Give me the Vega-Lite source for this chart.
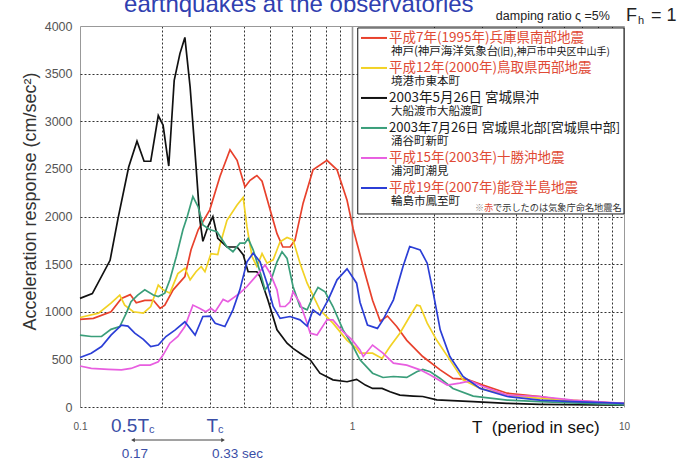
{
  "$schema": "https://vega.github.io/schema/vega-lite/v6.json",
  "width": 544,
  "height": 381,
  "autosize": {"type": "none"},
  "padding": {"left": 80, "top": 26, "right": 53, "bottom": 55},
  "background": "white",
  "config": {"view": {"stroke": null}, "font": "Liberation Sans"},
  "datasets": {
    "spectra": [
      {"eq":"kobe","T":0.1,"A":920},{"eq":"kobe","T":0.112,"A":930},{"eq":"kobe","T":0.13,"A":1000},{"eq":"kobe","T":0.142,"A":1140},{"eq":"kobe","T":0.153,"A":1180},{"eq":"kobe","T":0.161,"A":1095},{"eq":"kobe","T":0.173,"A":1120},{"eq":"kobe","T":0.186,"A":1120},{"eq":"kobe","T":0.197,"A":1035},{"eq":"kobe","T":0.205,"A":1070},{"eq":"kobe","T":0.22,"A":1230},{"eq":"kobe","T":0.243,"A":1370},{"eq":"kobe","T":0.256,"A":1650},{"eq":"kobe","T":0.272,"A":1860},{"eq":"kobe","T":0.3,"A":2070},{"eq":"kobe","T":0.327,"A":2420},{"eq":"kobe","T":0.356,"A":2700},{"eq":"kobe","T":0.378,"A":2590},{"eq":"kobe","T":0.404,"A":2310},{"eq":"kobe","T":0.422,"A":2380},{"eq":"kobe","T":0.447,"A":2430},{"eq":"kobe","T":0.467,"A":2370},{"eq":"kobe","T":0.5,"A":2070},{"eq":"kobe","T":0.53,"A":1820},{"eq":"kobe","T":0.557,"A":1680},{"eq":"kobe","T":0.592,"A":1680},{"eq":"kobe","T":0.617,"A":1750},{"eq":"kobe","T":0.661,"A":2140},{"eq":"kobe","T":0.719,"A":2490},{"eq":"kobe","T":0.809,"A":2590},{"eq":"kobe","T":0.881,"A":2490},{"eq":"kobe","T":0.959,"A":2170},{"eq":"kobe","T":1.01,"A":1870},{"eq":"kobe","T":1.1,"A":1470},{"eq":"kobe","T":1.19,"A":1120},{"eq":"kobe","T":1.27,"A":900},{"eq":"kobe","T":1.35,"A":955},{"eq":"kobe","T":1.46,"A":845},{"eq":"kobe","T":1.59,"A":700},{"eq":"kobe","T":1.82,"A":530},{"eq":"kobe","T":2.11,"A":390},{"eq":"kobe","T":2.35,"A":300},{"eq":"kobe","T":2.65,"A":290},{"eq":"kobe","T":3.03,"A":230},{"eq":"kobe","T":3.72,"A":145},{"eq":"kobe","T":4.91,"A":110},{"eq":"kobe","T":6.49,"A":56},{"eq":"kobe","T":10,"A":38},
      {"eq":"tottori","T":0.1,"A":940},{"eq":"tottori","T":0.117,"A":985},{"eq":"tottori","T":0.13,"A":1090},{"eq":"tottori","T":0.14,"A":1175},{"eq":"tottori","T":0.146,"A":1070},{"eq":"tottori","T":0.157,"A":1000},{"eq":"tottori","T":0.171,"A":985},{"eq":"tottori","T":0.182,"A":1055},{"eq":"tottori","T":0.194,"A":1280},{"eq":"tottori","T":0.202,"A":1230},{"eq":"tottori","T":0.214,"A":1195},{"eq":"tottori","T":0.229,"A":1400},{"eq":"tottori","T":0.243,"A":1455},{"eq":"tottori","T":0.254,"A":1335},{"eq":"tottori","T":0.267,"A":1420},{"eq":"tottori","T":0.279,"A":1475},{"eq":"tottori","T":0.288,"A":1420},{"eq":"tottori","T":0.303,"A":1610},{"eq":"tottori","T":0.321,"A":1600},{"eq":"tottori","T":0.327,"A":1700},{"eq":"tottori","T":0.347,"A":1960},{"eq":"tottori","T":0.378,"A":2120},{"eq":"tottori","T":0.398,"A":2200},{"eq":"tottori","T":0.411,"A":1890},{"eq":"tottori","T":0.429,"A":1580},{"eq":"tottori","T":0.447,"A":1475},{"eq":"tottori","T":0.467,"A":1610},{"eq":"tottori","T":0.487,"A":1510},{"eq":"tottori","T":0.513,"A":1545},{"eq":"tottori","T":0.544,"A":1735},{"eq":"tottori","T":0.577,"A":1780},{"eq":"tottori","T":0.607,"A":1755},{"eq":"tottori","T":0.644,"A":1510},{"eq":"tottori","T":0.684,"A":1300},{"eq":"tottori","T":0.762,"A":1020},{"eq":"tottori","T":0.851,"A":880},{"eq":"tottori","T":0.959,"A":700},{"eq":"tottori","T":1.04,"A":615},{"eq":"tottori","T":1.07,"A":565},{"eq":"tottori","T":1.19,"A":565},{"eq":"tottori","T":1.29,"A":510},{"eq":"tottori","T":1.38,"A":635},{"eq":"tottori","T":1.5,"A":775},{"eq":"tottori","T":1.63,"A":950},{"eq":"tottori","T":1.73,"A":1070},{"eq":"tottori","T":1.78,"A":1060},{"eq":"tottori","T":1.89,"A":880},{"eq":"tottori","T":2.05,"A":700},{"eq":"tottori","T":2.29,"A":495},{"eq":"tottori","T":2.56,"A":285},{"eq":"tottori","T":2.96,"A":195},{"eq":"tottori","T":3.72,"A":125},{"eq":"tottori","T":4.91,"A":90},{"eq":"tottori","T":6.49,"A":73},{"eq":"tottori","T":10,"A":31},
      {"eq":"miyagi_oki","T":0.1,"A":1140},{"eq":"miyagi_oki","T":0.111,"A":1190},{"eq":"miyagi_oki","T":0.129,"A":1540},{"eq":"miyagi_oki","T":0.138,"A":1980},{"eq":"miyagi_oki","T":0.151,"A":2520},{"eq":"miyagi_oki","T":0.162,"A":2790},{"eq":"miyagi_oki","T":0.172,"A":2580},{"eq":"miyagi_oki","T":0.182,"A":2580},{"eq":"miyagi_oki","T":0.194,"A":3060},{"eq":"miyagi_oki","T":0.202,"A":2960},{"eq":"miyagi_oki","T":0.212,"A":2530},{"eq":"miyagi_oki","T":0.222,"A":3430},{"eq":"miyagi_oki","T":0.233,"A":3710},{"eq":"miyagi_oki","T":0.243,"A":3880},{"eq":"miyagi_oki","T":0.254,"A":3360},{"eq":"miyagi_oki","T":0.265,"A":2660},{"eq":"miyagi_oki","T":0.276,"A":1960},{"eq":"miyagi_oki","T":0.283,"A":1740},{"eq":"miyagi_oki","T":0.296,"A":1900},{"eq":"miyagi_oki","T":0.308,"A":2000},{"eq":"miyagi_oki","T":0.321,"A":1770},{"eq":"miyagi_oki","T":0.347,"A":1680},{"eq":"miyagi_oki","T":0.378,"A":1680},{"eq":"miyagi_oki","T":0.398,"A":1600},{"eq":"miyagi_oki","T":0.415,"A":1420},{"eq":"miyagi_oki","T":0.447,"A":1420},{"eq":"miyagi_oki","T":0.459,"A":1370},{"eq":"miyagi_oki","T":0.491,"A":1120},{"eq":"miyagi_oki","T":0.53,"A":810},{"eq":"miyagi_oki","T":0.577,"A":670},{"eq":"miyagi_oki","T":0.607,"A":615},{"eq":"miyagi_oki","T":0.644,"A":565},{"eq":"miyagi_oki","T":0.702,"A":495},{"eq":"miyagi_oki","T":0.762,"A":355},{"eq":"miyagi_oki","T":0.851,"A":285},{"eq":"miyagi_oki","T":0.959,"A":265},{"eq":"miyagi_oki","T":1.04,"A":290},{"eq":"miyagi_oki","T":1.12,"A":230},{"eq":"miyagi_oki","T":1.19,"A":195},{"eq":"miyagi_oki","T":1.29,"A":195},{"eq":"miyagi_oki","T":1.38,"A":160},{"eq":"miyagi_oki","T":1.5,"A":125},{"eq":"miyagi_oki","T":1.68,"A":115},{"eq":"miyagi_oki","T":1.82,"A":110},{"eq":"miyagi_oki","T":2.05,"A":75},{"eq":"miyagi_oki","T":2.79,"A":56},{"eq":"miyagi_oki","T":3.72,"A":38},{"eq":"miyagi_oki","T":4.91,"A":28},{"eq":"miyagi_oki","T":10,"A":20},
      {"eq":"miyagi_north","T":0.1,"A":755},{"eq":"miyagi_north","T":0.11,"A":740},{"eq":"miyagi_north","T":0.12,"A":740},{"eq":"miyagi_north","T":0.13,"A":815},{"eq":"miyagi_north","T":0.14,"A":845},{"eq":"miyagi_north","T":0.148,"A":985},{"eq":"miyagi_north","T":0.154,"A":1105},{"eq":"miyagi_north","T":0.163,"A":1175},{"eq":"miyagi_north","T":0.173,"A":1230},{"eq":"miyagi_north","T":0.186,"A":1175},{"eq":"miyagi_north","T":0.194,"A":1160},{"eq":"miyagi_north","T":0.205,"A":1195},{"eq":"miyagi_north","T":0.214,"A":1335},{"eq":"miyagi_north","T":0.226,"A":1580},{"eq":"miyagi_north","T":0.239,"A":1860},{"eq":"miyagi_north","T":0.248,"A":2000},{"eq":"miyagi_north","T":0.26,"A":2210},{"eq":"miyagi_north","T":0.272,"A":2100},{"eq":"miyagi_north","T":0.283,"A":1910},{"eq":"miyagi_north","T":0.301,"A":1860},{"eq":"miyagi_north","T":0.319,"A":1840},{"eq":"miyagi_north","T":0.347,"A":1680},{"eq":"miyagi_north","T":0.365,"A":1630},{"eq":"miyagi_north","T":0.387,"A":1720},{"eq":"miyagi_north","T":0.404,"A":1720},{"eq":"miyagi_north","T":0.415,"A":1770},{"eq":"miyagi_north","T":0.433,"A":1650},{"eq":"miyagi_north","T":0.459,"A":1420},{"eq":"miyagi_north","T":0.479,"A":1230},{"eq":"miyagi_north","T":0.5,"A":1300},{"eq":"miyagi_north","T":0.53,"A":1525},{"eq":"miyagi_north","T":0.553,"A":1630},{"eq":"miyagi_north","T":0.577,"A":1560},{"eq":"miyagi_north","T":0.607,"A":1265},{"eq":"miyagi_north","T":0.644,"A":1055},{"eq":"miyagi_north","T":0.684,"A":1020},{"eq":"miyagi_north","T":0.719,"A":1160},{"eq":"miyagi_north","T":0.75,"A":1255},{"eq":"miyagi_north","T":0.796,"A":1210},{"eq":"miyagi_north","T":0.851,"A":1055},{"eq":"miyagi_north","T":0.927,"A":810},{"eq":"miyagi_north","T":1.01,"A":635},{"eq":"miyagi_north","T":1.05,"A":540},{"eq":"miyagi_north","T":1.07,"A":495},{"eq":"miyagi_north","T":1.19,"A":355},{"eq":"miyagi_north","T":1.3,"A":310},{"eq":"miyagi_north","T":1.42,"A":320},{"eq":"miyagi_north","T":1.59,"A":310},{"eq":"miyagi_north","T":1.73,"A":370},{"eq":"miyagi_north","T":1.82,"A":395},{"eq":"miyagi_north","T":1.94,"A":370},{"eq":"miyagi_north","T":2.11,"A":300},{"eq":"miyagi_north","T":2.35,"A":195},{"eq":"miyagi_north","T":2.79,"A":115},{"eq":"miyagi_north","T":3.72,"A":73},{"eq":"miyagi_north","T":4.91,"A":56},{"eq":"miyagi_north","T":10,"A":21},
      {"eq":"tokachi","T":0.1,"A":430},{"eq":"tokachi","T":0.11,"A":405},{"eq":"tokachi","T":0.127,"A":395},{"eq":"tokachi","T":0.142,"A":390},{"eq":"tokachi","T":0.154,"A":405},{"eq":"tokachi","T":0.166,"A":440},{"eq":"tokachi","T":0.181,"A":440},{"eq":"tokachi","T":0.194,"A":475},{"eq":"tokachi","T":0.202,"A":545},{"eq":"tokachi","T":0.214,"A":670},{"eq":"tokachi","T":0.229,"A":740},{"eq":"tokachi","T":0.243,"A":845},{"eq":"tokachi","T":0.26,"A":1070},{"eq":"tokachi","T":0.276,"A":1035},{"eq":"tokachi","T":0.29,"A":1000},{"eq":"tokachi","T":0.303,"A":1035},{"eq":"tokachi","T":0.314,"A":1000},{"eq":"tokachi","T":0.336,"A":1130},{"eq":"tokachi","T":0.35,"A":1105},{"eq":"tokachi","T":0.387,"A":1195},{"eq":"tokachi","T":0.411,"A":1265},{"eq":"tokachi","T":0.447,"A":1385},{"eq":"tokachi","T":0.479,"A":1490},{"eq":"tokachi","T":0.5,"A":1405},{"eq":"tokachi","T":0.53,"A":1230},{"eq":"tokachi","T":0.544,"A":1055},{"eq":"tokachi","T":0.568,"A":1055},{"eq":"tokachi","T":0.592,"A":1105},{"eq":"tokachi","T":0.607,"A":1210},{"eq":"tokachi","T":0.644,"A":1090},{"eq":"tokachi","T":0.684,"A":880},{"eq":"tokachi","T":0.702,"A":775},{"eq":"tokachi","T":0.744,"A":755},{"eq":"tokachi","T":0.809,"A":915},{"eq":"tokachi","T":0.851,"A":915},{"eq":"tokachi","T":0.927,"A":790},{"eq":"tokachi","T":1.0,"A":705},{"eq":"tokachi","T":1.07,"A":600},{"eq":"tokachi","T":1.1,"A":530},{"eq":"tokachi","T":1.19,"A":650},{"eq":"tokachi","T":1.3,"A":565},{"eq":"tokachi","T":1.42,"A":460},{"eq":"tokachi","T":1.59,"A":440},{"eq":"tokachi","T":1.78,"A":390},{"eq":"tokachi","T":1.94,"A":335},{"eq":"tokachi","T":2.24,"A":230},{"eq":"tokachi","T":2.49,"A":250},{"eq":"tokachi","T":2.72,"A":275},{"eq":"tokachi","T":3.03,"A":215},{"eq":"tokachi","T":3.72,"A":125},{"eq":"tokachi","T":4.91,"A":110},{"eq":"tokachi","T":6.49,"A":73},{"eq":"tokachi","T":10,"A":38},
      {"eq":"noto","T":0.1,"A":520},{"eq":"noto","T":0.11,"A":565},{"eq":"noto","T":0.12,"A":635},{"eq":"noto","T":0.13,"A":755},{"eq":"noto","T":0.142,"A":860},{"eq":"noto","T":0.15,"A":850},{"eq":"noto","T":0.159,"A":775},{"eq":"noto","T":0.171,"A":710},{"eq":"noto","T":0.182,"A":635},{"eq":"noto","T":0.194,"A":650},{"eq":"noto","T":0.207,"A":740},{"eq":"noto","T":0.224,"A":810},{"eq":"noto","T":0.243,"A":895},{"eq":"noto","T":0.265,"A":755},{"eq":"noto","T":0.283,"A":950},{"eq":"noto","T":0.301,"A":955},{"eq":"noto","T":0.314,"A":880},{"eq":"noto","T":0.341,"A":845},{"eq":"noto","T":0.365,"A":1020},{"eq":"noto","T":0.387,"A":1230},{"eq":"noto","T":0.411,"A":1525},{"eq":"noto","T":0.433,"A":1615},{"eq":"noto","T":0.459,"A":1525},{"eq":"noto","T":0.487,"A":1300},{"eq":"noto","T":0.513,"A":1055},{"eq":"noto","T":0.544,"A":930},{"eq":"noto","T":0.592,"A":950},{"eq":"noto","T":0.644,"A":915},{"eq":"noto","T":0.684,"A":850},{"eq":"noto","T":0.719,"A":1020},{"eq":"noto","T":0.762,"A":965},{"eq":"noto","T":0.817,"A":1125},{"eq":"noto","T":0.881,"A":1335},{"eq":"noto","T":0.959,"A":1450},{"eq":"noto","T":1.04,"A":1300},{"eq":"noto","T":1.07,"A":1100},{"eq":"noto","T":1.14,"A":860},{"eq":"noto","T":1.24,"A":825},{"eq":"noto","T":1.3,"A":915},{"eq":"noto","T":1.42,"A":1125},{"eq":"noto","T":1.54,"A":1475},{"eq":"noto","T":1.63,"A":1685},{"eq":"noto","T":1.78,"A":1650},{"eq":"noto","T":1.89,"A":1510},{"eq":"noto","T":1.99,"A":1195},{"eq":"noto","T":2.11,"A":810},{"eq":"noto","T":2.29,"A":530},{"eq":"noto","T":2.56,"A":320},{"eq":"noto","T":2.96,"A":195},{"eq":"noto","T":3.72,"A":110},{"eq":"noto","T":4.91,"A":73},{"eq":"noto","T":6.49,"A":56},{"eq":"noto","T":10,"A":38}
    ],
    "legend": [
      {"eq":"kobe","named":true,"line1":"平成7年(1995年)兵庫県南部地震","line2":"神戸(神戸海洋気象台","line2b":"(旧),神戸市中央区中山手)"},
      {"eq":"tottori","named":true,"line1":"平成12年(2000年)鳥取県西部地震","line2":"境港市東本町","line2b":""},
      {"eq":"miyagi_oki","named":false,"line1":"2003年5月26日 宮城県沖","line2":"大船渡市大船渡町","line2b":""},
      {"eq":"miyagi_north","named":false,"line1":"2003年7月26日 宮城県北部[宮城県中部]","line2":"涌谷町新町","line2b":""},
      {"eq":"tokachi","named":true,"line1":"平成15年(2003年)十勝沖地震","line2":"浦河町潮見","line2b":""},
      {"eq":"noto","named":true,"line1":"平成19年(2007年)能登半島地震","line2":"輪島市鳳至町","line2b":""}
    ]
  },
  "layer": [
    {
      "data": {"name": "spectra"},
      "mark": {"type": "line", "strokeWidth": 1.7},
      "encoding": {
        "x": {
          "field": "T", "type": "quantitative",
          "scale": {"type": "log", "domain": [0.1, 10]},
          "axis": {
            "values": [0.1,0.2,0.3,0.4,0.5,0.6,0.7,0.8,0.9,1,2,3,4,5,6,7,8,9,10],
            "labelExpr": "datum.value == 0.1 ? '0.1' : datum.value == 1 ? '1' : datum.value == 10 ? '10' : ''",
            "labelOverlap": false, "labelFlush": false, "labelBound": false,
            "labelFontSize": 10, "labelColor": "#555", "labelPadding": 14,
            "grid": true,
            "gridDash": {"condition": {"test": "datum.value == 0.1 || datum.value == 1 || datum.value == 10", "value": []}, "value": [2, 2]},
            "gridColor": {"condition": {"test": "datum.value == 0.1 || datum.value == 1 || datum.value == 10", "value": "#999"}, "value": "#333"},
            "gridWidth": {"condition": {"test": "datum.value == 1", "value": 1.6}, "value": 1},
            "domain": false, "ticks": false, "title": null
          }
        },
        "y": {
          "field": "A", "type": "quantitative",
          "scale": {"domain": [0, 4000]},
          "axis": {
            "values": [0,500,1000,1500,2000,2500,3000,3500,4000],
            "format": "d",
            "grid": true,
            "gridDash": {"condition": {"test": "datum.value == 4000", "value": []}, "value": [2, 2]},
            "gridColor": {"condition": {"test": "datum.value == 4000", "value": "#999"}, "value": "#333"},
            "domain": false, "ticks": false,
            "labelFontSize": 12.5, "labelColor": "#555", "labelPadding": 8,
            "title": "Acceleration response (cm/sec²)",
            "titleFontSize": 18, "titleFontWeight": "normal", "titleColor": "#333", "titlePadding": 5,
            "titleY": 175
          }
        },
        "color": {
          "field": "eq", "type": "nominal", "legend": null,
          "scale": {
            "domain": ["kobe","tottori","miyagi_oki","miyagi_north","tokachi","noto"],
            "range": ["#e8412c","#f2d224","#111111","#3a9e7a","#e85ee0","#2b3ed6"]
          }
        }
      }
    },
    {
      "data": {"values": [{}]},
      "mark": {"type": "rect", "fill": "white", "stroke": "#111", "strokeWidth": 1},
      "encoding": {"x": {"datum": 1.05}, "x2": {"datum": 10}, "y": {"datum": 3979.5}, "y2": {"datum": 2026.5}}
    },
    {
      "data": {"name": "legend"},
      "transform": [{"filter": "datum.eq == 'kobe'"}],
      "layer": [
        {"mark": {"type": "rule", "strokeWidth": 2}, "encoding": {"x": {"datum": 1.079}, "x2": {"datum": 1.345}, "y": {"datum": 3874.5}, "color": {"field": "eq", "type": "nominal", "legend": null}}},
        {"mark": {"type": "text", "align": "left", "baseline": "middle", "fontSize": 13.5, "font": "Noto Sans CJK JP"}, "encoding": {"x": {"datum": 1.368}, "y": {"datum": 3874.5}, "text": {"field": "line1"}, "color": {"condition": {"test": "datum.named", "value": "#e04a35"}, "value": "#1a1a1a"}}},
        {"mark": {"type": "text", "align": "left", "baseline": "middle", "fontSize": 11.5, "font": "Noto Sans CJK JP", "color": "#1a1a1a"}, "encoding": {"x": {"datum": 1.391}, "y": {"datum": 3727.5}, "text": {"field": "line2"}}},
        {"mark": {"type": "text", "align": "left", "baseline": "middle", "fontSize": 10, "letterSpacing": 0.8, "font": "Noto Sans CJK JP", "color": "#1a1a1a"}, "encoding": {"x": {"datum": 3.41}, "y": {"datum": 3722}, "text": {"field": "line2b"}}}
      ]
    },
    {
      "data": {"name": "legend"},
      "transform": [{"filter": "datum.eq == 'tottori'"}],
      "layer": [
        {"mark": {"type": "rule", "strokeWidth": 2}, "encoding": {"x": {"datum": 1.079}, "x2": {"datum": 1.345}, "y": {"datum": 3559.5}, "color": {"field": "eq", "type": "nominal", "legend": null}}},
        {"mark": {"type": "text", "align": "left", "baseline": "middle", "fontSize": 13.5, "font": "Noto Sans CJK JP"}, "encoding": {"x": {"datum": 1.368}, "y": {"datum": 3559.5}, "text": {"field": "line1"}, "color": {"condition": {"test": "datum.named", "value": "#e04a35"}, "value": "#1a1a1a"}}},
        {"mark": {"type": "text", "align": "left", "baseline": "middle", "fontSize": 11.5, "font": "Noto Sans CJK JP", "color": "#1a1a1a"}, "encoding": {"x": {"datum": 1.391}, "y": {"datum": 3412.5}, "text": {"field": "line2"}}}
      ]
    },
    {
      "data": {"name": "legend"},
      "transform": [{"filter": "datum.eq == 'miyagi_oki'"}],
      "layer": [
        {"mark": {"type": "rule", "strokeWidth": 2}, "encoding": {"x": {"datum": 1.079}, "x2": {"datum": 1.345}, "y": {"datum": 3244.5}, "color": {"field": "eq", "type": "nominal", "legend": null}}},
        {"mark": {"type": "text", "align": "left", "baseline": "middle", "fontSize": 13.5, "font": "Noto Sans CJK JP"}, "encoding": {"x": {"datum": 1.368}, "y": {"datum": 3244.5}, "text": {"field": "line1"}, "color": {"condition": {"test": "datum.named", "value": "#e04a35"}, "value": "#1a1a1a"}}},
        {"mark": {"type": "text", "align": "left", "baseline": "middle", "fontSize": 11.5, "font": "Noto Sans CJK JP", "color": "#1a1a1a"}, "encoding": {"x": {"datum": 1.391}, "y": {"datum": 3097.5}, "text": {"field": "line2"}}}
      ]
    },
    {
      "data": {"name": "legend"},
      "transform": [{"filter": "datum.eq == 'miyagi_north'"}],
      "layer": [
        {"mark": {"type": "rule", "strokeWidth": 2}, "encoding": {"x": {"datum": 1.079}, "x2": {"datum": 1.345}, "y": {"datum": 2929.5}, "color": {"field": "eq", "type": "nominal", "legend": null}}},
        {"mark": {"type": "text", "align": "left", "baseline": "middle", "fontSize": 13, "font": "Noto Sans CJK JP"}, "encoding": {"x": {"datum": 1.368}, "y": {"datum": 2929.5}, "text": {"field": "line1"}, "color": {"condition": {"test": "datum.named", "value": "#e04a35"}, "value": "#1a1a1a"}}},
        {"mark": {"type": "text", "align": "left", "baseline": "middle", "fontSize": 11.5, "font": "Noto Sans CJK JP", "color": "#1a1a1a"}, "encoding": {"x": {"datum": 1.391}, "y": {"datum": 2782.5}, "text": {"field": "line2"}}}
      ]
    },
    {
      "data": {"name": "legend"},
      "transform": [{"filter": "datum.eq == 'tokachi'"}],
      "layer": [
        {"mark": {"type": "rule", "strokeWidth": 2}, "encoding": {"x": {"datum": 1.079}, "x2": {"datum": 1.345}, "y": {"datum": 2614.5}, "color": {"field": "eq", "type": "nominal", "legend": null}}},
        {"mark": {"type": "text", "align": "left", "baseline": "middle", "fontSize": 13.5, "font": "Noto Sans CJK JP"}, "encoding": {"x": {"datum": 1.368}, "y": {"datum": 2614.5}, "text": {"field": "line1"}, "color": {"condition": {"test": "datum.named", "value": "#e04a35"}, "value": "#1a1a1a"}}},
        {"mark": {"type": "text", "align": "left", "baseline": "middle", "fontSize": 11.5, "font": "Noto Sans CJK JP", "color": "#1a1a1a"}, "encoding": {"x": {"datum": 1.391}, "y": {"datum": 2467.5}, "text": {"field": "line2"}}}
      ]
    },
    {
      "data": {"name": "legend"},
      "transform": [{"filter": "datum.eq == 'noto'"}],
      "layer": [
        {"mark": {"type": "rule", "strokeWidth": 2}, "encoding": {"x": {"datum": 1.079}, "x2": {"datum": 1.345}, "y": {"datum": 2299.5}, "color": {"field": "eq", "type": "nominal", "legend": null}}},
        {"mark": {"type": "text", "align": "left", "baseline": "middle", "fontSize": 13.5, "font": "Noto Sans CJK JP"}, "encoding": {"x": {"datum": 1.368}, "y": {"datum": 2299.5}, "text": {"field": "line1"}, "color": {"condition": {"test": "datum.named", "value": "#e04a35"}, "value": "#1a1a1a"}}},
        {"mark": {"type": "text", "align": "left", "baseline": "middle", "fontSize": 11.5, "font": "Noto Sans CJK JP", "color": "#1a1a1a"}, "encoding": {"x": {"datum": 1.391}, "y": {"datum": 2152.5}, "text": {"field": "line2"}}}
      ]
    },
    {
      "data": {"values": [{}]},
      "layer": [
        {"mark": {"type": "text", "align": "left", "baseline": "middle", "fontSize": 9, "font": "Noto Sans CJK JP", "color": "#888"}, "encoding": {"x": {"datum": 2.83}, "y": {"datum": 2089.5}, "text": {"value": "※"}}},
        {"mark": {"type": "text", "align": "left", "baseline": "middle", "fontSize": 9.2, "font": "Noto Sans CJK JP", "color": "#e04a35"}, "encoding": {"x": {"datum": 3.06}, "y": {"datum": 2089.5}, "text": {"value": "赤"}}},
        {"mark": {"type": "text", "align": "left", "baseline": "middle", "fontSize": 9.2, "font": "Noto Sans CJK JP", "color": "#333"}, "encoding": {"x": {"datum": 3.30}, "y": {"datum": 2089.5}, "text": {"value": "で示したのは気象庁命名地震名"}}},
        {"mark": {"type": "text", "align": "left", "baseline": "alphabetic", "fontSize": 24, "color": "#3040b0"}, "encoding": {"x": {"datum": 0.1452}, "y": {"datum": 4147.5}, "text": {"value": "earthquakes at the observatories"}}},
        {"mark": {"type": "text", "align": "left", "baseline": "alphabetic", "fontSize": 12.5, "color": "#222"}, "encoding": {"x": {"datum": 3.38}, "y": {"datum": 4063.5}, "text": {"value": "damping ratio ς =5%"}}},
        {"mark": {"type": "text", "align": "left", "baseline": "alphabetic", "fontSize": 18, "color": "#222"}, "encoding": {"x": {"datum": 10.17}, "y": {"datum": 4053}, "text": {"value": "F"}}},
        {"mark": {"type": "text", "align": "left", "baseline": "alphabetic", "fontSize": 11, "color": "#222"}, "encoding": {"x": {"datum": 11.25}, "y": {"datum": 4021.5}, "text": {"value": "h"}}},
        {"mark": {"type": "text", "align": "left", "baseline": "alphabetic", "fontSize": 18, "color": "#222"}, "encoding": {"x": {"datum": 12.57}, "y": {"datum": 4053}, "text": {"value": "= 1"}}},
        {"mark": {"type": "text", "align": "left", "baseline": "middle", "fontSize": 17, "color": "#111"}, "encoding": {"x": {"datum": 2.762}, "y": {"datum": -220.5}, "text": {"value": "T\u00a0 (period in sec)"}}},
        {"mark": {"type": "text", "align": "right", "baseline": "alphabetic", "fontSize": 19, "color": "#3a4ea6"}, "encoding": {"x": {"datum": 0.1794}, "y": {"datum": -262.5}, "text": {"value": "0.5T"}}},
        {"mark": {"type": "text", "align": "left", "baseline": "alphabetic", "fontSize": 11, "color": "#3a4ea6"}, "encoding": {"x": {"datum": 0.1794}, "y": {"datum": -273}, "text": {"value": "c"}}},
        {"mark": {"type": "text", "align": "right", "baseline": "alphabetic", "fontSize": 19, "color": "#3a4ea6"}, "encoding": {"x": {"datum": 0.3216}, "y": {"datum": -262.5}, "text": {"value": "T"}}},
        {"mark": {"type": "text", "align": "left", "baseline": "alphabetic", "fontSize": 11, "color": "#3a4ea6"}, "encoding": {"x": {"datum": 0.3216}, "y": {"datum": -273}, "text": {"value": "c"}}},
        {"mark": {"type": "rule", "strokeWidth": 1, "color": "#444"}, "encoding": {"x": {"datum": 0.1566}, "x2": {"datum": 0.3357}, "y": {"datum": -346.5}}},
        {"mark": {"type": "point", "shape": "triangle-left", "size": 18, "filled": true, "color": "#444", "opacity": 1}, "encoding": {"x": {"datum": 0.1566}, "y": {"datum": -346.5}}},
        {"mark": {"type": "point", "shape": "triangle-right", "size": 18, "filled": true, "color": "#444", "opacity": 1}, "encoding": {"x": {"datum": 0.3357}, "y": {"datum": -346.5}}},
        {"mark": {"type": "text", "align": "center", "baseline": "middle", "fontSize": 13.5, "color": "#3a4ea6"}, "encoding": {"x": {"datum": 0.159}, "y": {"datum": -497}, "text": {"value": "0.17"}}},
        {"mark": {"type": "text", "align": "left", "baseline": "middle", "fontSize": 13.5, "color": "#3a4ea6"}, "encoding": {"x": {"datum": 0.3056}, "y": {"datum": -497}, "text": {"value": "0.33 sec"}}}
      ]
    }
  ]
}
